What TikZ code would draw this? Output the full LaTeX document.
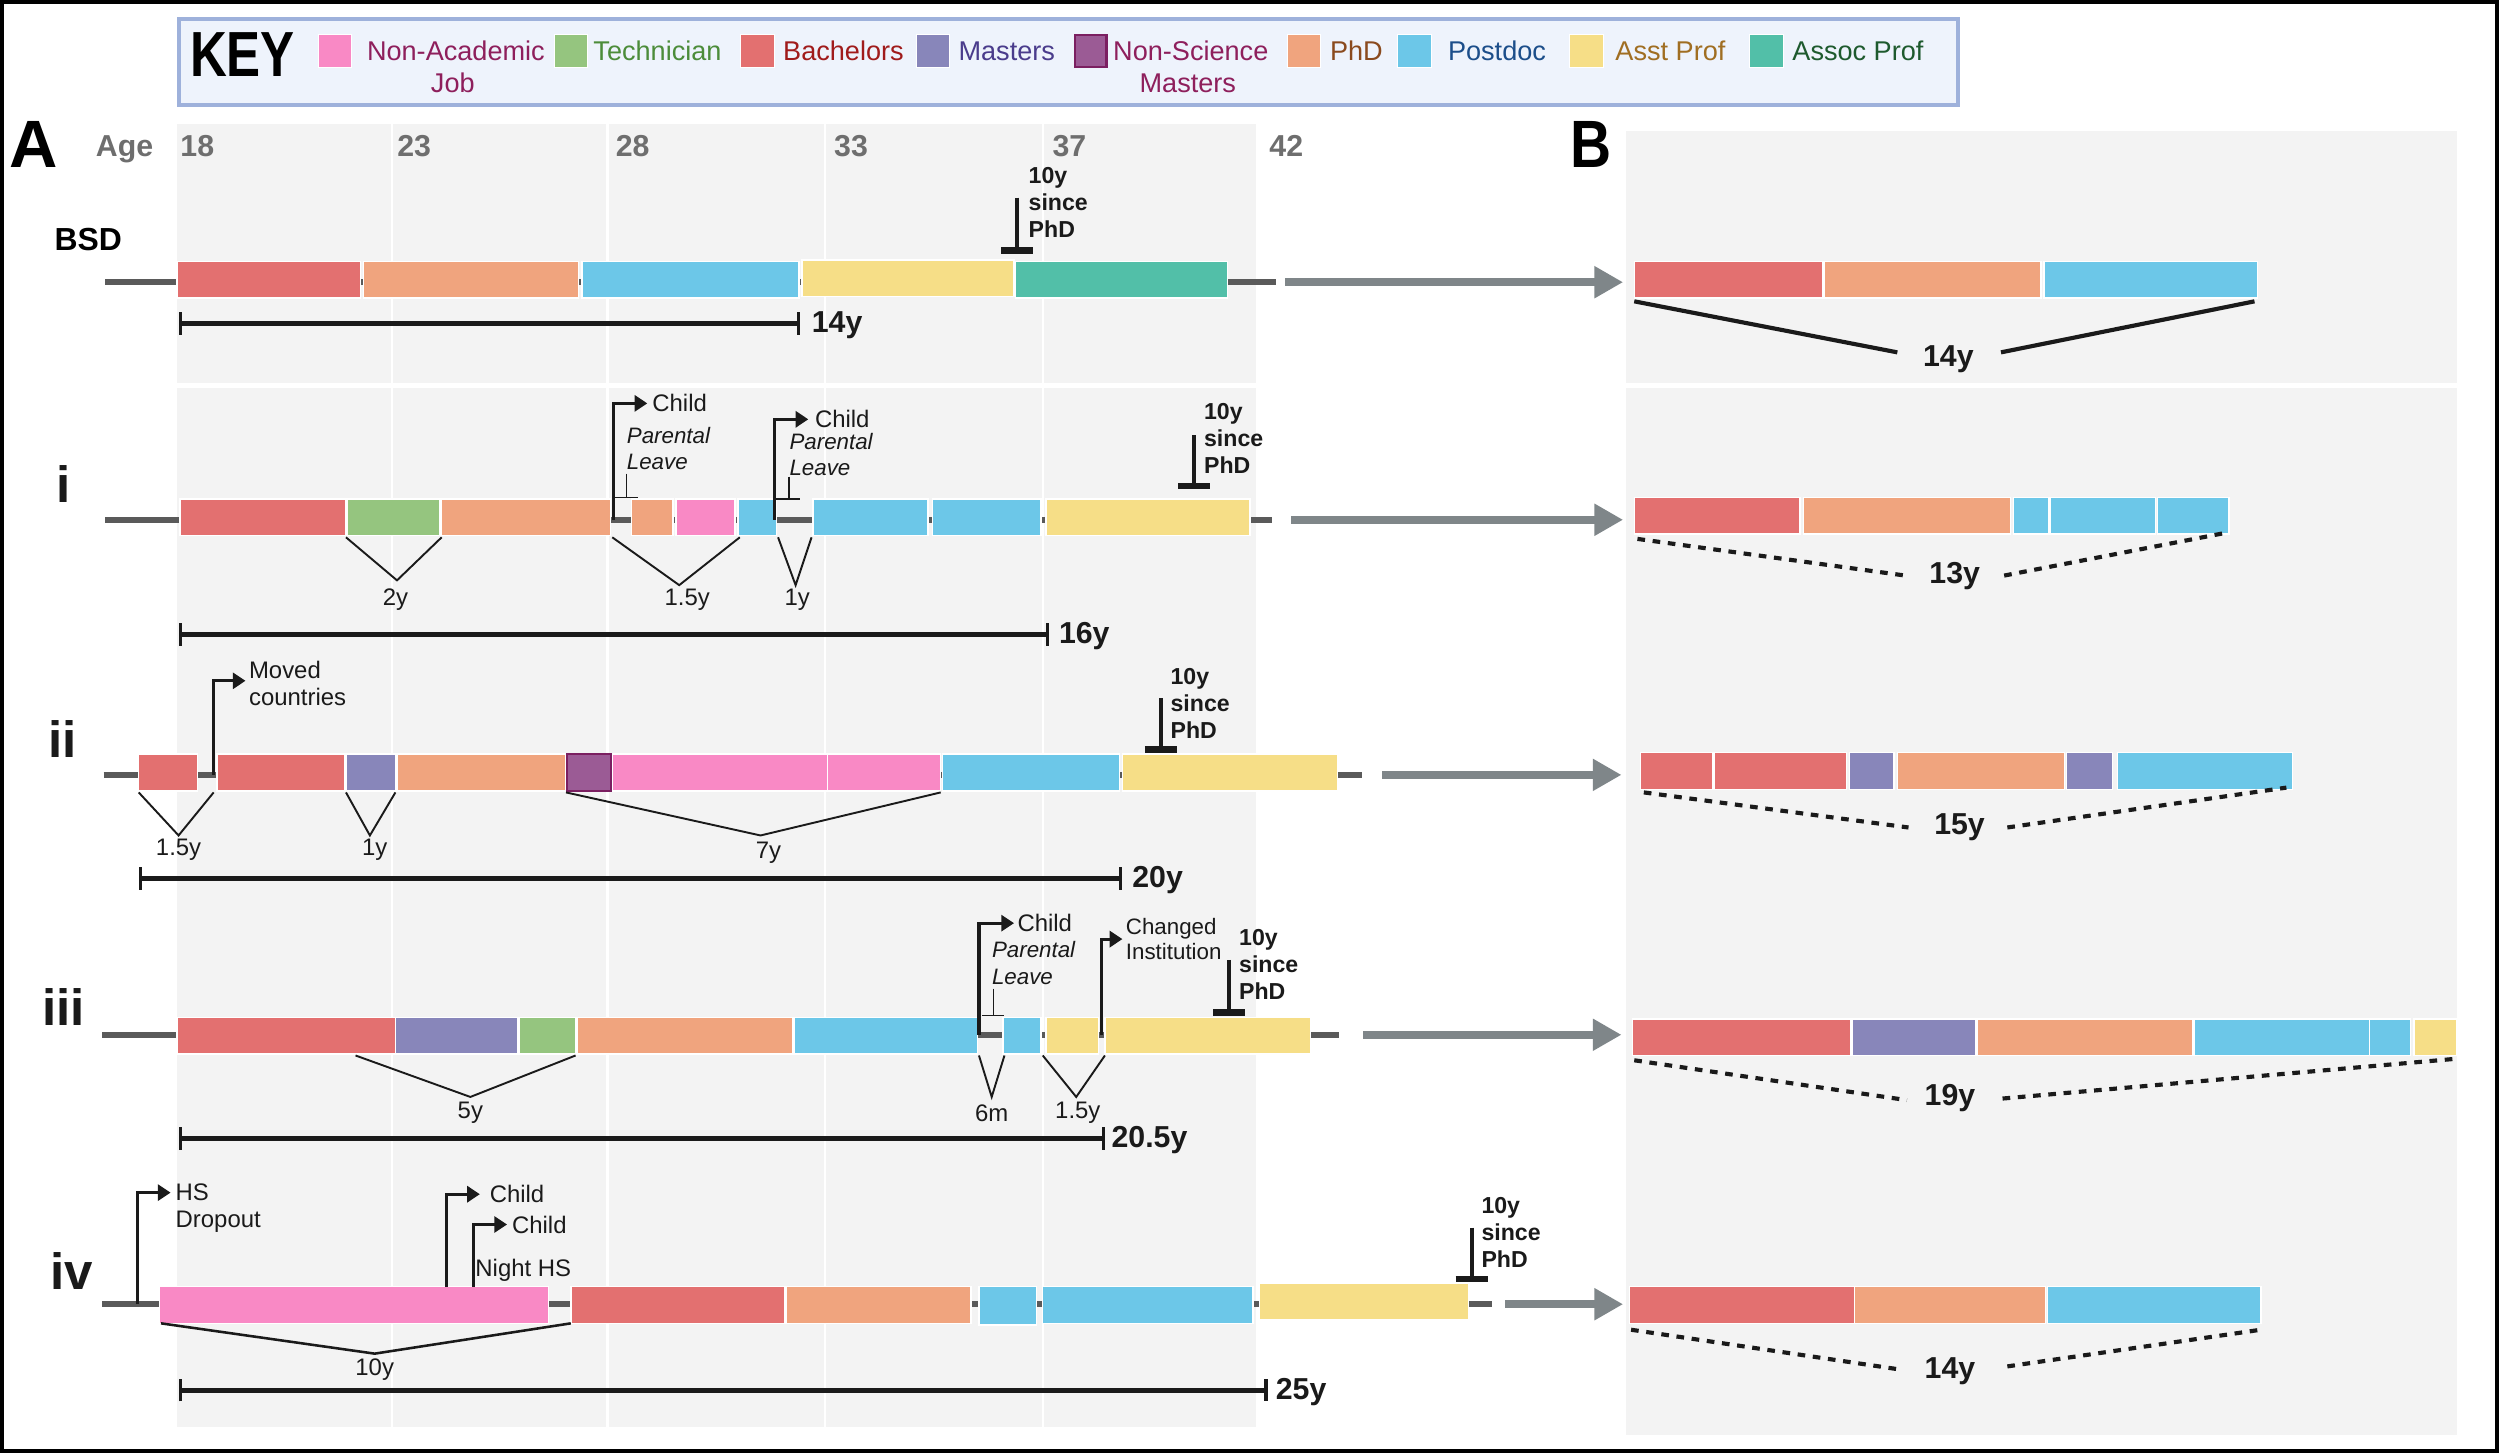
\documentclass[tikz,border=0pt]{standalone}
\usepackage{fontspec}
\setmainfont{Liberation Sans}
\usetikzlibrary{arrows.meta}
\definecolor{bach}{HTML}{E37070}
\definecolor{phd}{HTML}{F0A47E}
\definecolor{post}{HTML}{6CC7E8}
\definecolor{asst}{HTML}{F6DE87}
\definecolor{assoc}{HTML}{52BFA8}
\definecolor{tech}{HTML}{95C57F}
\definecolor{nonac}{HTML}{F989C5}
\definecolor{mast}{HTML}{8886BA}
\definecolor{nsm}{HTML}{9B5B95}
\definecolor{nsmB}{HTML}{7B1F61}
\definecolor{nonacT}{HTML}{8E1F5C}
\definecolor{techT}{HTML}{4C8C3A}
\definecolor{bachT}{HTML}{A01B1B}
\definecolor{mastT}{HTML}{4A3C8C}
\definecolor{phdT}{HTML}{8A4A1E}
\definecolor{postT}{HTML}{1C4E8A}
\definecolor{asstT}{HTML}{A06E22}
\definecolor{assocT}{HTML}{1E5A2E}
\definecolor{panel}{HTML}{F3F3F3}
\definecolor{keyfill}{HTML}{EEF3FC}
\definecolor{keyline}{HTML}{9EB1DB}
\definecolor{tlgray}{HTML}{5A5A5A}
\definecolor{arrgray}{HTML}{7F8689}
\definecolor{agegray}{HTML}{6E6E6E}
\definecolor{ink}{HTML}{1A1A1A}

\newcommand\mkseg[6][]{\node[segbox,fill=#3,minimum width={#5-#4},#1] (#2) at (#4,#6) {};}
\newcommand\tenmark[6]{%
  \coordinate (#1top) at (#2,#3); \coordinate (#1bot) at (#2,#4);
  \draw[tenline] (#1top) -- (#1bot);
  \draw[tencap] ([xshift=-10pt]#1bot) -- ([xshift=10pt]#1bot);
  \node[tentext] (#1txt) at (#5,#6) {10y\\since\\PhD};}
\newcommand\evmark[5]{%
  \coordinate (#1base) at (#2,#3); \coordinate (#1tip) at (#5,#4);
  \draw[evarrow] (#1base) |- (#1tip);}

\begin{document}
\begin{tikzpicture}[x=1pt,y=-1pt,
  segbox/.style={rectangle, draw=white, line width=0.9pt, inner sep=0pt, outer sep=0pt, minimum height=23pt, anchor=north west},
  lsq/.style={rectangle, draw=white, line width=0.6pt, inner sep=0pt, minimum size=21pt},
  timeline/.style={draw=tlgray, line width=4pt},
  bigarrow/.style={draw=arrgray, line width=5pt, -{Triangle[length=18pt,width=19pt]}},
  brk/.style={draw=ink, line width=1.2pt},
  sbar/.style={draw=ink, line width=2.8pt, {Bar[width=14pt,line width=2pt]}-{Bar[width=14pt,line width=2pt]}},
  evarrow/.style={draw=ink, line width=2pt, -{Triangle[length=8pt,width=10pt]}},
  tenline/.style={draw=ink, line width=2.6pt},
  tencap/.style={draw=ink, line width=4pt},
  tentext/.style={anchor=west, inner sep=0pt, align=left, text=ink, font=\fontsize{14.5}{17}\selectfont\bfseries},
  evtext/.style={anchor=west, inner sep=0pt, align=left, text=ink, font=\fontsize{15}{17}\selectfont},
  ittext/.style={anchor=west, inner sep=0pt, align=left, text=ink, font=\fontsize{14}{16.5}\selectfont\itshape},
  brtext/.style={inner sep=0pt, text=ink, font=\fontsize{15}{17}\selectfont},
  durtext/.style={anchor=west, inner sep=0pt, text=ink, font=\fontsize{19}{21}\selectfont\bfseries},
  btext/.style={inner sep=0pt, text=ink, font=\fontsize{19}{21}\selectfont\bfseries},
  agetext/.style={anchor=base west, inner sep=0pt, text=agegray, font=\fontsize{19}{21}\selectfont\bfseries},
  rowlab/.style={anchor=base, inner sep=0pt, text=ink, font=\fontsize{32}{34}\selectfont\bfseries},
  legtext/.style={anchor=west, inner sep=0pt, font=\fontsize{17}{19}\selectfont},
  dotl/.style={draw=ink, line width=2.6pt, dash pattern=on 4.8pt off 4.8pt},
  soll/.style={draw=ink, line width=2.6pt}
]
\useasboundingbox (0,0) rectangle (1568,912);
\fill[white] (0,0) rectangle (1568,912);

% panels
\fill[panel] (111,78) rectangle (788,895);
\fill[panel] (1020,82) rectangle (1541,900);
\foreach \gx in {246,381,517.5,654} {\draw[white, line width=1.5pt] (\gx,78) -- (\gx,895);}
\draw[white, line width=3pt] (111,242) -- (788,242);
\draw[white, line width=3pt] (1020,242) -- (1541,242);

% outer frame
\draw[black, line width=2.5pt] (1.5,1.5) rectangle (1566,910);

% key
\draw[keyline, fill=keyfill, line width=2.5pt] (112,12) rectangle (1228,66);
\node[anchor=base west, inner sep=0pt, font=\fontsize{40}{42}\selectfont\bfseries] (keyT) at (119,48) {\scalebox{0.8}[1]{KEY}};
\node[lsq, fill=nonac] (kq1) at (210,32) {};
\node[legtext, text=nonacT] (kt1) at (230,32) {Non-Academic};
\node[legtext, anchor=center, text=nonacT] (kt1b) at (284,52) {Job};
\node[lsq, fill=tech] (kq2) at (358,32) {};
\node[legtext, text=techT] (kt2) at (372,32) {Technician};
\node[lsq, fill=bach] (kq3) at (475,32) {};
\node[legtext, text=bachT] (kt3) at (491,32) {Bachelors};
\node[lsq, fill=mast] (kq4) at (585,32) {};
\node[legtext, text=mastT] (kt4) at (601,32) {Masters};
\node[lsq, fill=nsm, draw=nsmB, line width=1.4pt, minimum size=20pt] (kq5) at (684,32) {};
\node[legtext, text=nonacT] (kt5) at (698,32) {Non-Science};
\node[legtext, anchor=center, text=nonacT] (kt5b) at (745,52) {Masters};
\node[lsq, fill=phd] (kq6) at (818,32) {};
\node[legtext, text=phdT] (kt6) at (834,32) {PhD};
\node[lsq, fill=post] (kq7) at (887,32) {};
\node[legtext, text=postT] (kt7) at (908,32) {Postdoc};
\node[lsq, fill=asst] (kq8) at (995,32) {};
\node[legtext, text=asstT] (kt8) at (1013,32) {Asst Prof};
\node[lsq, fill=assoc] (kq9) at (1108,32) {};
\node[legtext, text=assocT] (kt9) at (1124,32) {Assoc Prof};

% headings
\node[anchor=base west, inner sep=0pt, font=\fontsize{42}{44}\selectfont\bfseries] (pA) at (6,105) {A};
\node[anchor=base west, inner sep=0pt, font=\fontsize{42}{44}\selectfont\bfseries] (pB) at (985,105) {\scalebox{0.85}[1]{B}};
\node[agetext] (age) at (60,98) {Age};
\node[agetext] (a18) at (113,98) {18};
\node[agetext] (a23) at (249,98) {23};
\node[agetext] (a28) at (386,98) {28};
\node[agetext] (a33) at (523,98) {33};
\node[agetext] (a37) at (660,98) {37};
\node[agetext] (a42) at (796,98) {42};

% ================= BSD =================
\node[anchor=base west, inner sep=0pt, font=\fontsize{20}{22}\selectfont\bfseries] (lbsd) at (34,157) {BSD};
\coordinate (bsdL) at (66,177); \coordinate (bsdR) at (800,177);
\draw[timeline] (bsdL) -- (bsdR);
\coordinate (bsdA1) at (806,177); \coordinate (bsdA2) at (1018,177);
\draw[bigarrow] (bsdA1) -- (bsdA2);
\mkseg{s1}{bach}{111}{226}{164}
\mkseg{s2}{phd}{228}{363}{164}
\mkseg{s3}{post}{365}{501}{164}
\mkseg{s4}{asst}{503}{636}{163}
\mkseg{s5}{assoc}{637}{770}{164}
\tenmark{bsdt}{638}{124}{157}{645}{127}
\coordinate (bsdS1) at (112,203); \coordinate (bsdS2) at (502,203);
\draw[sbar] (bsdS1) -- (bsdS2);
\node[durtext] (bsdD) at (509,204) {14y};
\mkseg{sb1}{bach}{1025}{1143}{164}
\mkseg{sb2}{phd}{1144}{1280}{164}
\mkseg{sb3}{post}{1282}{1416}{164}
\coordinate (bsdB1) at (1025,189); \coordinate (bsdB2) at (1190,221);
\coordinate (bsdB3) at (1255,221); \coordinate (bsdB4) at (1414,189);
\draw[soll] (bsdB1) -- (bsdB2); \draw[soll] (bsdB3) -- (bsdB4);
\node[btext] (bsdBt) at (1222,225) {14y};

% ================= i =================
\node[rowlab] (li) at (40,315) {i};
\coordinate (iL) at (66,326); \coordinate (iR) at (798,326);
\draw[timeline] (iL) -- (iR);
\coordinate (iA1) at (810,326); \coordinate (iA2) at (1018,326);
\draw[bigarrow] (iA1) -- (iA2);
\mkseg{i1}{bach}{113}{217}{313}
\mkseg{i2}{tech}{218}{276}{313}
\mkseg{i3}{phd}{277}{383}{313}
\mkseg{i4}{phd}{396}{422}{313}
\mkseg{i5}{nonac}{424}{461}{313}
\mkseg{i6}{post}{463}{487}{313}
\mkseg{i7}{post}{510}{582}{313}
\mkseg{i8}{post}{585}{653}{313}
\mkseg{i9}{asst}{656}{784}{313}
\evmark{ic1}{385}{326}{253}{406}
\node[evtext] (ic1t) at (409,253) {Child};
\node[ittext] (ic1p) at (393,281.5) {Parental\\Leave};
\coordinate (ip1a) at (393,297); \coordinate (ip1b) at (393,312);
\coordinate (ip1c) at (386,312); \coordinate (ip1d) at (400,312);
\draw[ink, line width=1pt] (ip1a) -- (ip1b); \draw[ink, line width=1pt] (ip1c) -- (ip1d);
\evmark{ic2}{486}{326}{263}{507}
\node[evtext] (ic2t) at (511,263) {Child};
\node[ittext] (ic2p) at (495,285) {Parental\\Leave};
\coordinate (ip2a) at (495,299); \coordinate (ip2b) at (495,313);
\coordinate (ip2c) at (487,313); \coordinate (ip2d) at (502,313);
\draw[ink, line width=1pt] (ip2a) -- (ip2b); \draw[ink, line width=1pt] (ip2c) -- (ip2d);
\tenmark{it}{749}{273}{305}{755}{275}
\coordinate (ib1a) at (217,337); \coordinate (ib1b) at (249,364); \coordinate (ib1c) at (277,337);
\draw[brk] (ib1a) -- (ib1b) -- (ib1c);
\node[brtext] (ib1t) at (248,376) {2y};
\coordinate (ib2a) at (384,337); \coordinate (ib2b) at (426,367); \coordinate (ib2c) at (464,337);
\draw[brk] (ib2a) -- (ib2b) -- (ib2c);
\node[brtext] (ib2t) at (431,376) {1.5y};
\coordinate (ib3a) at (488,337); \coordinate (ib3b) at (499,367); \coordinate (ib3c) at (509,337);
\draw[brk] (ib3a) -- (ib3b) -- (ib3c);
\node[brtext] (ib3t) at (500,376) {1y};
\coordinate (iS1) at (112,398); \coordinate (iS2) at (658,398);
\draw[sbar] (iS1) -- (iS2);
\node[durtext] (iD) at (664,399) {16y};
\mkseg{ib1}{bach}{1025}{1129}{312}
\mkseg{ib2}{phd}{1131}{1261}{312}
\mkseg{ib3}{post}{1263}{1285}{312}
\mkseg{ib4}{post}{1286}{1352}{312}
\mkseg{ib5}{post}{1353}{1398}{312}
\coordinate (iB1) at (1027,338); \coordinate (iB2) at (1195,361);
\coordinate (iB3) at (1257,361); \coordinate (iB4) at (1397,334);
\draw[dotl] (iB1) -- (iB2); \draw[dotl] (iB3) -- (iB4);
\node[btext] (iBt) at (1226,361) {13y};

% ================= ii =================
\node[rowlab] (lii) at (39,475) {ii};
\coordinate (iiL) at (65,486); \coordinate (iiR) at (854,486);
\draw[timeline] (iiL) -- (iiR);
\coordinate (iiA1) at (867,486); \coordinate (iiA2) at (1017,486);
\draw[bigarrow] (iiA1) -- (iiA2);
\mkseg{ii1}{bach}{87}{124}{473}
\mkseg{ii2}{bach}{136}{216}{473}
\mkseg{ii3}{mast}{217}{248}{473}
\mkseg{ii4}{phd}{249}{355}{473}
\mkseg[draw=nsmB, line width=1.4pt]{ii5}{nsm}{355.5}{383}{473}
\mkseg{ii6}{nonac}{384}{519}{473}
\mkseg{ii7}{nonac}{519}{590}{473}
\mkseg{ii8}{post}{591}{702}{473}
\mkseg{ii9}{asst}{704}{839}{473}
\evmark{iim}{134}{486}{427}{154}
\node[evtext] (iimt) at (156,428.5) {Moved\\countries};
\tenmark{iit}{728}{438}{470}{734}{441}
\coordinate (iib1a) at (87,497); \coordinate (iib1b) at (112,524); \coordinate (iib1c) at (134,497);
\draw[brk] (iib1a) -- (iib1b) -- (iib1c);
\node[brtext] (iib1t) at (112,533) {1.5y};
\coordinate (iib2a) at (217,497); \coordinate (iib2b) at (232,524); \coordinate (iib2c) at (248,497);
\draw[brk] (iib2a) -- (iib2b) -- (iib2c);
\node[brtext] (iib2t) at (235,533) {1y};
\coordinate (iib3a) at (355,497); \coordinate (iib3b) at (477,524); \coordinate (iib3c) at (590,497);
\draw[brk] (iib3a) -- (iib3b) -- (iib3c);
\node[brtext] (iib3t) at (482,535) {7y};
\coordinate (iiS1) at (87,551); \coordinate (iiS2) at (704,551);
\draw[sbar] (iiS1) -- (iiS2);
\node[durtext] (iiD) at (710,552) {20y};
\mkseg{iib1}{bach}{1029}{1074}{472}
\mkseg{iib2}{bach}{1075}{1158}{472}
\mkseg{iib3}{mast}{1160}{1188}{472}
\mkseg{iib4}{phd}{1190}{1295}{472}
\mkseg{iib5}{mast}{1296}{1325}{472}
\mkseg{iib6}{post}{1328}{1438}{472}
\coordinate (iiB1) at (1031,497); \coordinate (iiB2) at (1197,519);
\coordinate (iiB3) at (1259,519); \coordinate (iiB4) at (1434,494);
\draw[dotl] (iiB1) -- (iiB2); \draw[dotl] (iiB3) -- (iiB4);
\node[btext] (iiBt) at (1229,519) {15y};

% ================= iii =================
\node[rowlab] (liii) at (40,643) {iii};
\coordinate (iiiL) at (64,649); \coordinate (iiiR) at (840,649);
\draw[timeline] (iiiL) -- (iiiR);
\coordinate (iiiA1) at (855,649); \coordinate (iiiA2) at (1017,649);
\draw[bigarrow] (iiiA1) -- (iiiA2);
\mkseg{iii1}{bach}{111}{248}{638}
\mkseg{iii2}{mast}{248}{325}{638}
\mkseg{iii3}{tech}{326}{361}{638}
\mkseg{iii4}{phd}{362}{497}{638}
\mkseg{iii5}{post}{498}{613}{638}
\mkseg{iii6}{post}{629}{653}{638}
\mkseg{iii7}{asst}{656}{689}{638}
\mkseg{iii8}{asst}{693}{822}{638}
\evmark{iiic}{614}{649}{579}{636}
\node[evtext] (iiict) at (638,579) {Child};
\node[ittext] (iiicp) at (622,604) {Parental\\Leave};
\coordinate (iiipa) at (623,620); \coordinate (iiipb) at (623,637);
\coordinate (iiipc) at (616,637); \coordinate (iiipd) at (630,637);
\draw[ink, line width=1pt] (iiipa) -- (iiipb); \draw[ink, line width=1pt] (iiipc) -- (iiipd);
\evmark{iiich}{691}{649}{589}{704}
\node[evtext, font=\fontsize{14}{16}\selectfont] (iiicht) at (706,589) {Changed\\Institution};
\tenmark{iiit}{771}{602}{635}{777}{605}
\coordinate (iiib1a) at (223,662); \coordinate (iiib1b) at (295,688); \coordinate (iiib1c) at (361,662);
\draw[brk] (iiib1a) -- (iiib1b) -- (iiib1c);
\node[brtext] (iiib1t) at (295,698) {5y};
\coordinate (iiib2a) at (614,662); \coordinate (iiib2b) at (622,688); \coordinate (iiib2c) at (630,662);
\draw[brk] (iiib2a) -- (iiib2b) -- (iiib2c);
\node[brtext] (iiib2t) at (622,698) {6m};
\coordinate (iiib3a) at (654,662); \coordinate (iiib3b) at (675,688); \coordinate (iiib3c) at (693,662);
\draw[brk] (iiib3a) -- (iiib3b) -- (iiib3c);
\node[brtext] (iiib3t) at (676,698) {1.5y};
\coordinate (iiiS1) at (112,714); \coordinate (iiiS2) at (693,714);
\draw[sbar] (iiiS1) -- (iiiS2);
\node[durtext] (iiiD) at (697,715) {20.5y};
\mkseg{iiib1}{bach}{1024}{1161}{639}
\mkseg{iiib2}{mast}{1162}{1239}{639}
\mkseg{iiib3}{phd}{1240}{1375}{639}
\mkseg{iiib4}{post}{1376}{1486}{639}
\mkseg{iiib5}{post}{1486}{1512}{639}
\mkseg{iiib6}{asst}{1514}{1541}{639}
\coordinate (iiiB1) at (1025,665); \coordinate (iiiB2) at (1196,690);
\coordinate (iiiB3) at (1256,689); \coordinate (iiiB4) at (1541,664);
\draw[dotl] (iiiB1) -- (iiiB2); \draw[dotl] (iiiB3) -- (iiiB4);
\node[btext] (iiiBt) at (1223,689) {19y};

% ================= iv =================
\node[rowlab] (liv) at (45,809) {iv};
\coordinate (ivL) at (64,818); \coordinate (ivR) at (936,818);
\draw[timeline] (ivL) -- (ivR);
\coordinate (ivA1) at (944,818); \coordinate (ivA2) at (1018,818);
\draw[bigarrow] (ivA1) -- (ivA2);
\mkseg{iv1}{nonac}{100}{344}{807}
\mkseg{iv2}{bach}{358}{492}{807}
\mkseg{iv3}{phd}{493}{609}{807}
\mkseg[minimum height=24pt]{iv4}{post}{614}{650}{807}
\mkseg{iv5}{post}{654}{786}{807}
\mkseg{iv6}{asst}{790}{921}{805}
\evmark{ivh}{86}{818}{748}{107}
\node[evtext] (ivht) at (110,758) {HS\\Dropout};
\evmark{ivc1}{280}{807}{749}{301}
\node[evtext] (ivc1t) at (307,749) {Child};
\evmark{ivc2}{297}{807}{768}{318}
\node[evtext] (ivc2t) at (321,768) {Child};
\node[evtext] (ivns) at (298,797) {Night HS};
\tenmark{ivt}{923}{770}{802}{929}{773}
\coordinate (ivb1a) at (101,830); \coordinate (ivb1b) at (235,849); \coordinate (ivb1c) at (358,830);
\draw[brk, line width=1.6pt] (ivb1a) -- (ivb1b) -- (ivb1c);
\node[brtext] (ivb1t) at (235,859) {10y};
\coordinate (ivS1) at (112,872); \coordinate (ivS2) at (795,872);
\draw[sbar] (ivS1) -- (ivS2);
\node[durtext] (ivD) at (800,873) {25y};
\mkseg{ivb1}{bach}{1022}{1163}{807}
\mkseg{ivb2}{phd}{1163}{1283}{807}
\mkseg{ivb3}{post}{1284}{1418}{807}
\coordinate (ivB1) at (1023,834); \coordinate (ivB2) at (1192,859);
\coordinate (ivB3) at (1259,857); \coordinate (ivB4) at (1418,834);
\draw[dotl] (ivB1) -- (ivB2); \draw[dotl] (ivB3) -- (ivB4);
\node[btext] (ivBt) at (1223,860) {14y};
\end{tikzpicture}
\end{document}
